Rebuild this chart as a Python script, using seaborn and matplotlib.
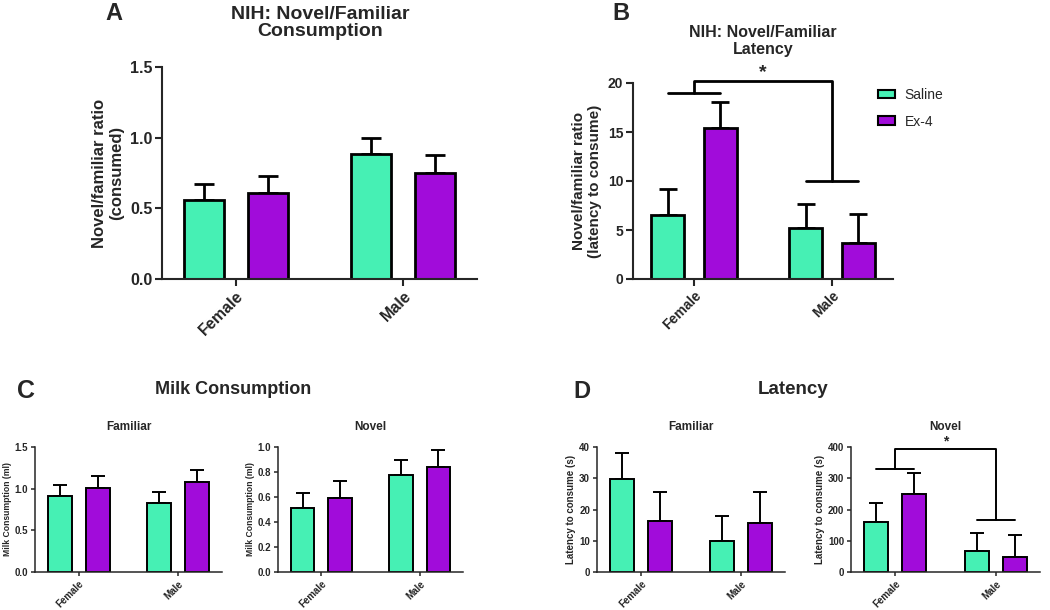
import numpy as np
import pandas as pd
import seaborn as sns
import matplotlib.pyplot as plt
from matplotlib.patches import Patch
from matplotlib.container import BarContainer
from matplotlib.ticker import FormatStrFormatter

sexes = ["Female", "Male"]
treatments = ["Saline", "Ex-4"]
colors = ["#46F0B4", "#A10CDA"]

# A: NIH novel/familiar consumption ratio (mean, SEM)
a_saline = [0.56, 0.885]
a_saline_sem = [0.11, 0.115]
a_ex4 = [0.61, 0.75]
a_ex4_sem = [0.12, 0.13]

# B: NIH novel/familiar latency ratio
b_saline = [6.5, 5.2]
b_saline_sem = [2.7, 2.5]
b_ex4 = [15.4, 3.7]
b_ex4_sem = [2.7, 2.9]
b_bracket = [19.0, 20.2, 10.0]

# C: milk consumption (ml)
c_fam_saline = [0.91, 0.83]
c_fam_saline_sem = [0.13, 0.13]
c_fam_ex4 = [1.01, 1.08]
c_fam_ex4_sem = [0.14, 0.15]
c_nov_saline = [0.51, 0.78]
c_nov_saline_sem = [0.12, 0.12]
c_nov_ex4 = [0.59, 0.84]
c_nov_ex4_sem = [0.14, 0.14]

# D: latency to consume (s)
d_fam_saline = [29.8, 10.0]
d_fam_saline_sem = [8.2, 8.0]
d_fam_ex4 = [16.4, 15.8]
d_fam_ex4_sem = [9.2, 9.9]
d_nov_saline = [160, 68]
d_nov_saline_sem = [61, 57]
d_nov_ex4 = [250, 48]
d_nov_ex4_sem = [66, 72]
d_bracket = [330, 395, 167]

sns.set_style("ticks")
plt.rcParams["font.family"] = ["Liberation Sans", "DejaVu Sans"]
plt.rcParams["font.weight"] = "bold"
plt.rcParams["axes.labelweight"] = "bold"
plt.rcParams["axes.titleweight"] = "bold"


def bars(ax, saline, saline_sem, ex4, ex4_sem, lw, spine_lw, capsize,
         tick_fs, label_fs, ylabel, ylim, step, fmt, ticklen=5, labelpad=4):
    df = pd.DataFrame({
        "sex": sexes * 2,
        "treatment": [treatments[0]] * 2 + [treatments[1]] * 2,
        "value": saline + ex4,
        "sem": saline_sem + ex4_sem,
    })
    sns.barplot(data=df, x="sex", y="value", hue="treatment", order=sexes,
                hue_order=treatments, palette=colors, saturation=1,
                width=0.76, gap=0.37, errorbar=None, edgecolor="black",
                linewidth=lw, legend=False, ax=ax)
    conts = [c for c in ax.containers if isinstance(c, BarContainer)]
    for cont, t in zip(conts, treatments):
        sub = df[df["treatment"] == t]
        xs = [b.get_x() + b.get_width() / 2 for b in cont]
        ax.errorbar(xs, sub["value"], yerr=[np.zeros(len(sub)), sub["sem"]],
                    fmt="none", ecolor="black", elinewidth=lw,
                    capsize=capsize, capthick=lw, zorder=0.5)
    ax.set_ylim(*ylim)
    ax.set_yticks(np.arange(ylim[0], ylim[1] + step / 2, step))
    ax.yaxis.set_major_formatter(FormatStrFormatter(fmt))
    ax.set_xlim(-0.44, 1.44)
    ax.set_xlabel("")
    ax.set_ylabel(ylabel, fontsize=label_fs, labelpad=labelpad)
    ax.tick_params(width=spine_lw, length=ticklen, labelsize=tick_fs, pad=2)
    plt.setp(ax.get_xticklabels(), rotation=45, ha="right",
             rotation_mode="anchor")
    sns.despine(ax=ax)
    for s in ["left", "bottom"]:
        ax.spines[s].set_linewidth(spine_lw)
    return conts


def bracket(ax, conts, heights, lw, star_fs):
    sal = [b.get_x() + b.get_width() / 2 for b in conts[0]]
    ex = [b.get_x() + b.get_width() / 2 for b in conts[1]]
    f_mid = (sal[0] + ex[0]) / 2
    m_mid = (sal[1] + ex[1]) / 2
    low_f, top, low_m = heights
    kw = dict(color="black", lw=lw, clip_on=False)
    ax.plot([sal[0], ex[0]], [low_f, low_f], **kw)
    ax.plot([sal[1], ex[1]], [low_m, low_m], **kw)
    ax.plot([f_mid, f_mid, m_mid, m_mid], [low_f, top, top, low_m], **kw)
    ax.text((f_mid + m_mid) / 2, top, "*", ha="center", va="bottom",
            fontsize=star_fs, clip_on=False)


fig = plt.figure(figsize=(10.5, 6.1), dpi=100, facecolor="white")

def px(x0, y0, x1, y1):
    return [x0 / 1050, 1 - y1 / 610, (x1 - x0) / 1050, (y1 - y0) / 610]

ax_a = fig.add_axes(px(162, 67, 477, 279))
ax_b = fig.add_axes(px(633, 83, 893, 279))
ax_c1 = fig.add_axes(px(35, 447, 222, 572))
ax_c2 = fig.add_axes(px(278, 447, 463, 572))
ax_d1 = fig.add_axes(px(597, 447, 785, 572))
ax_d2 = fig.add_axes(px(851, 447, 1040, 572))

bars(ax_a, a_saline, a_saline_sem, a_ex4, a_ex4_sem, 2.0, 1.5, 7.5,
     11.5, 12, "Novel/familiar ratio\n(consumed)", (0, 1.5), 0.5, "%.1f")
conts_b = bars(ax_b, b_saline, b_saline_sem, b_ex4, b_ex4_sem, 2.0, 1.5, 6.5,
               10, 11, "Novel/familiar ratio\n(latency to consume)",
               (0, 20), 5, "%d")
bracket(ax_b, conts_b, b_bracket, 2.0, 14)

small = dict(lw=1.4, spine_lw=1.1, capsize=4.7, ticklen=3, labelpad=2)
bars(ax_c1, c_fam_saline, c_fam_saline_sem, c_fam_ex4, c_fam_ex4_sem,
     tick_fs=7, label_fs=6.2, ylabel="Milk Consumption (ml)",
     ylim=(0, 1.5), step=0.5, fmt="%.1f", **small)
bars(ax_c2, c_nov_saline, c_nov_saline_sem, c_nov_ex4, c_nov_ex4_sem,
     tick_fs=7, label_fs=6.2, ylabel="Milk Consumption (ml)",
     ylim=(0, 1.0), step=0.2, fmt="%.1f", **small)
bars(ax_d1, d_fam_saline, d_fam_saline_sem, d_fam_ex4, d_fam_ex4_sem,
     tick_fs=7, label_fs=7, ylabel="Latency to consume (s)",
     ylim=(0, 40), step=10, fmt="%d", **small)
conts_d2 = bars(ax_d2, d_nov_saline, d_nov_saline_sem, d_nov_ex4,
                d_nov_ex4_sem, tick_fs=7, label_fs=7,
                ylabel="Latency to consume (s)", ylim=(0, 400), step=100,
                fmt="%d", **small)
bracket(ax_d2, conts_d2, d_bracket, 1.4, 10)

for ax, t in [(ax_c1, "Familiar"), (ax_c2, "Novel"),
              (ax_d1, "Familiar"), (ax_d2, "Novel")]:
    ax.set_title(t, fontsize=8.5, pad=12)

handles = [Patch(facecolor=c, edgecolor="black", linewidth=1.5)
           for c in colors]
ax_b.legend(handles, treatments, loc="upper left",
            bbox_to_anchor=(878 / 1050, 1 - 88 / 610),
            bbox_transform=fig.transFigure, frameon=False, borderpad=0,
            borderaxespad=0, handlelength=1.2, handleheight=0.55,
            handletextpad=0.7, labelspacing=0.9,
            prop={"weight": "normal", "size": 10})

fig.text(114 / 1050, 1 - 14 / 610, "A", fontsize=17, ha="center", va="center")
fig.text(320 / 1050, 1 - 23 / 610, "NIH: Novel/Familiar\nConsumption",
         fontsize=14, ha="center", va="center", linespacing=1.0)
fig.text(621 / 1050, 1 - 14 / 610, "B", fontsize=17, ha="center", va="center")
fig.text(763 / 1050, 1 - 41 / 610, "NIH: Novel/Familiar\nLatency",
         fontsize=11.5, ha="center", va="center", linespacing=1.1)
fig.text(26 / 1050, 1 - 391 / 610, "C", fontsize=18, ha="center", va="center")
fig.text(233 / 1050, 1 - 389 / 610, "Milk Consumption", fontsize=13,
         ha="center", va="center")
fig.text(582 / 1050, 1 - 391 / 610, "D", fontsize=17, ha="center", va="center")
fig.text(793 / 1050, 1 - 389 / 610, "Latency", fontsize=13.5,
         ha="center", va="center")

fig.savefig("out.png", dpi=100, facecolor="white")
